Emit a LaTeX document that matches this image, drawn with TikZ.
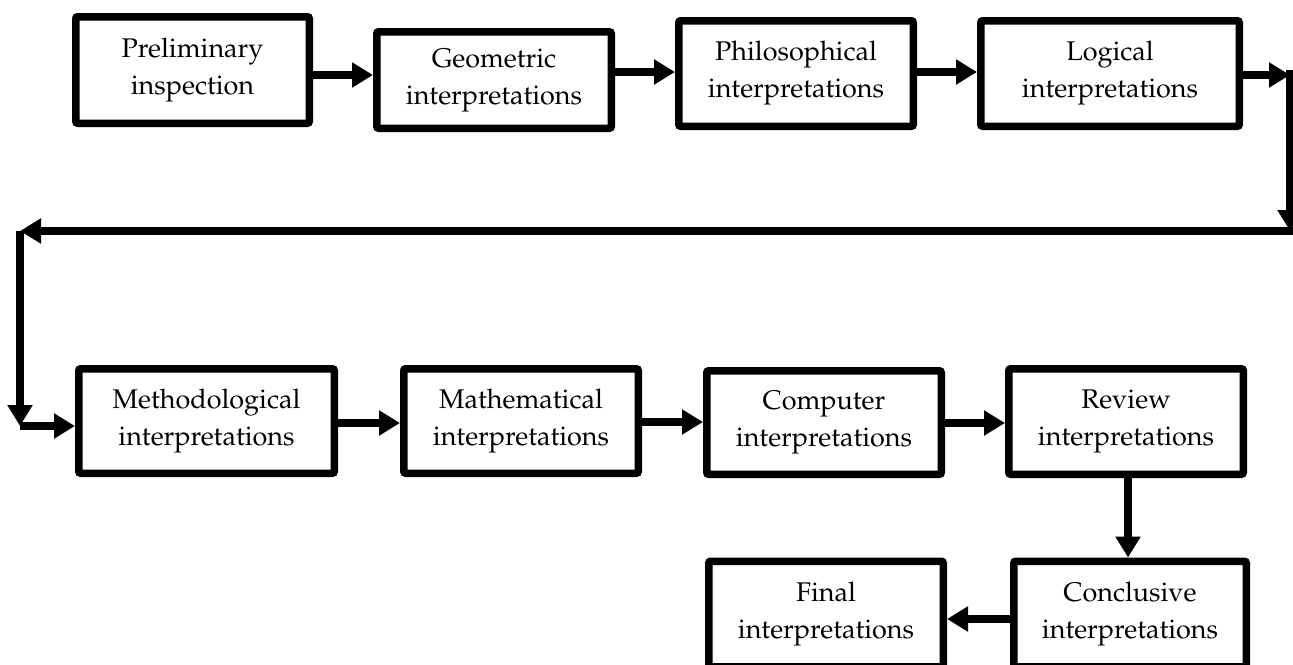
\documentclass[tikz,border=0pt]{standalone}
\usepackage[T1]{fontenc}
\usepackage{mathpazo}
\usetikzlibrary{arrows.meta}
\tikzset{
  box/.style={draw, line width=3.75pt, rounded corners=1pt, fill=white, align=center,
    font=\fontsize{13.5}{18.5}\selectfont, inner sep=0pt},
  arr/.style={line width=4pt, -{Triangle[length=10.5pt,width=12pt]}},
  ln/.style={line width=4pt}
}
\begin{document}
\begin{tikzpicture}[x=0.5pt,y=-0.5pt]
\useasboundingbox (0,0) rectangle (1293,664);
\clip (0,0) rectangle (1293,664);
% row 1
\node[box, minimum width=116.75pt, minimum height=53.25pt] (b1) at (192.5,70) {Preliminary\\inspection};
\node[box, minimum width=117.25pt, minimum height=48.25pt] (b2) at (494,80) {Geometric\\interpretations};
\node[box, minimum width=117.25pt, minimum height=52.75pt] (b3) at (796,73.5) {Philosophical\\interpretations};
\node[box, minimum width=129.25pt, minimum height=52.75pt] (b4) at (1110,73.5) {Logical\\interpretations};
% row 2
\node[box, minimum width=127.75pt, minimum height=52.25pt] (b5) at (206.5,421) {Methodological\\interpretations};
\node[box, minimum width=117.25pt, minimum height=52.25pt] (b6) at (521,421) {Mathematical\\interpretations};
\node[box, minimum width=117.25pt, minimum height=51.75pt] (b7) at (824,422.5) {Computer\\interpretations};
\node[box, minimum width=117.25pt, minimum height=52.75pt] (b8) at (1126,421.5) {Review\\interpretations};
% row 3
\node[box, minimum width=116.25pt, minimum height=52.75pt] (b9) at (1130,614) {Conclusive\\interpretations};
\node[box, minimum width=117.25pt, minimum height=52.75pt] (b10) at (826,614) {Final\\interpretations};
% turning points
\coordinate (c1) at (1290,75);
\coordinate (c2) at (1290,231);
\coordinate (c3) at (20,231);
\coordinate (c4) at (20,426);
% connectors
\draw[arr] (b1.east |- 0,75) -- (b2.west |- 0,75);
\draw[arr] (b2.east |- 0,72) -- (b3.west |- 0,72);
\draw[arr] (b3.east |- 0,72) -- (b4.west |- 0,72);
\draw[arr] (b4.east |- c1) -- (c1);
\draw[arr] (1290,70) -- (c2);
\draw[ln] (1293,231) -- (c2);
\draw[arr] (c2) -- (c3);
\draw[arr] (c3) -- (c4);
\draw[arr] (c4) -- (b5.west |- c4);
\draw[arr] (b5.east |- 0,423) -- (b6.west |- 0,423);
\draw[arr] (b6.east |- 0,422) -- (b7.west |- 0,422);
\draw[arr] (b7.east |- 0,423) -- (b8.west |- 0,423);
\draw[arr] (b8.south -| 1128,0) -- (b9.north -| 1128,0);
\draw[arr] (b9.west |- 0,619) -- (b10.east |- 0,619);
\end{tikzpicture}
\end{document}
